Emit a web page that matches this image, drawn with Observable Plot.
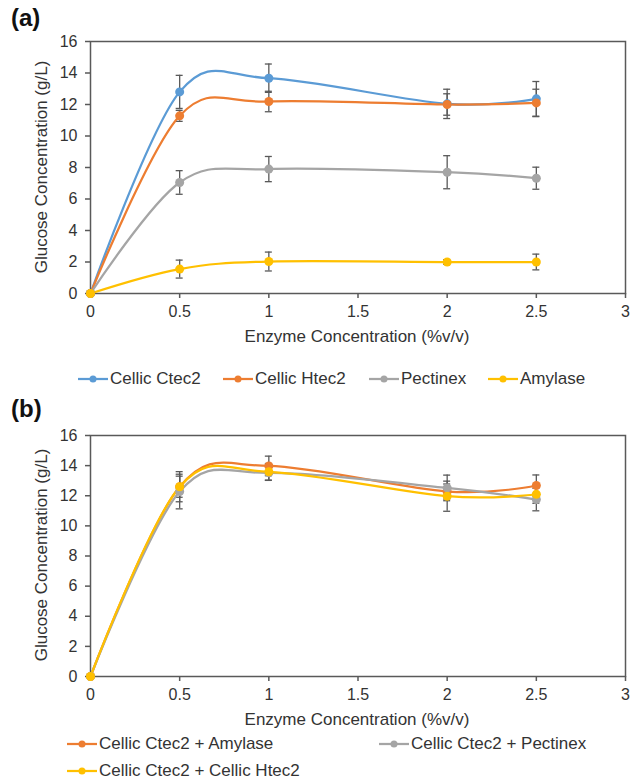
<!DOCTYPE html>
<html>
<head>
<meta charset="utf-8">
<script src="https://cdn.jsdelivr.net/npm/d3@7"></script>
<script src="https://cdn.jsdelivr.net/npm/@observablehq/plot@0.6"></script>
<style>
  html, body { margin: 0; padding: 0; background: #fff; }
  #fig { position: relative; width: 637px; height: 779px; font-family: "Liberation Sans", Arial, sans-serif; color: #333; overflow: hidden; }
  .abs { position: absolute; white-space: nowrap; }
  .panel { font-weight: bold; font-size: 24px; color: #111; }
  .xt { font-size: 17px; transform: translate(-50%, -50%); }
  .yt { font-size: 17px; transform: translate(-50%, -50%) rotate(-90deg); }
  .leg { font-size: 17px; display: flex; align-items: center; transform: translateY(-50%); }
  .leg svg { display: block; margin-right: 2px; }
</style>
</head>
<body>
<div id="fig"></div>
<script>
// ---------- data ----------
const concentrations = [0, 0.5, 1, 2, 2.5];
const xTicks = [0, 0.5, 1, 1.5, 2, 2.5, 3];
const yTicks = [0, 2, 4, 6, 8, 10, 12, 14, 16];

// panel (a)
const seriesA = ["Cellic Ctec2", "Cellic Htec2", "Pectinex", "Amylase"];
const colorsA = ["#5B9BD5", "#ED7D31", "#A5A5A5", "#FFC000"];
const ctec2 = [0, 12.8, 13.67, 12.04, 12.36];
const ctec2Err = [0, 1.05, 0.9, 0.93, 1.1];
const htec2 = [0, 11.28, 12.19, 12.0, 12.1];
const htec2Err = [0, 0.35, 0.65, 0.68, 0.87];
const pectinex = [0, 7.05, 7.9, 7.7, 7.32];
const pectinexErr = [0, 0.75, 0.8, 1.05, 0.7];
const amylase = [0, 1.55, 2.03, 2.0, 2.0];
const amylaseErr = [0, 0.57, 0.6, 0.15, 0.5];

// panel (b)
const seriesB = ["Cellic Ctec2 + Amylase", "Cellic Ctec2 + Pectinex", "Cellic Ctec2 + Cellic Htec2"];
const colorsB = ["#ED7D31", "#A5A5A5", "#FFC000"];
const ctecAmylase = [0, 12.6, 13.98, 12.28, 12.68];
const ctecAmylaseErr = [0, 1.0, 0.65, 0.5, 0.7];
const ctecPectinex = [0, 12.28, 13.52, 12.52, 11.75];
const ctecPectinexErr = [0, 1.15, 0.5, 0.85, 0.75];
const ctecHtec = [0, 12.6, 13.59, 11.97, 12.1];
const ctecHtecErr = [0, 0.7, 0.55, 1.0, 0.6];

const valuesA = [ctec2, htec2, pectinex, amylase];
const errorsA = [ctec2Err, htec2Err, pectinexErr, amylaseErr];
const valuesB = [ctecAmylase, ctecPectinex, ctecHtec];
const errorsB = [ctecAmylaseErr, ctecPectinexErr, ctecHtecErr];

function tidy(names, vals, errs) {
  const rows = [];
  names.forEach((s, k) => concentrations.forEach((x, i) => {
    rows.push({series: s, x, y: vals[k][i], err: errs[k][i], lo: vals[k][i] - errs[k][i], hi: vals[k][i] + errs[k][i]});
  }));
  return rows;
}

const FONT = '"Liberation Sans", Arial, sans-serif';
const fig = document.getElementById("fig");

function makePlot(rows, names, colors, top, height, mTop) {
  const err = rows.filter(d => d.err > 0);
  const p = Plot.plot({
    width: 637,
    height,
    marginTop: mTop,
    marginBottom: 30,
    marginLeft: 90,
    marginRight: 12,
    style: {fontFamily: FONT, fontSize: "16px", color: "#333", background: "transparent", overflow: "visible"},
    x: {domain: [0, 3]},
    y: {domain: [0, 16]},
    color: {domain: names, range: colors},
    marks: [
      Plot.axisX({ticks: xTicks, tickFormat: d => String(d), tickSize: 5, tickPadding: 7, label: null, stroke: "#595959", strokeWidth: 1.5, fill: "#333"}),
      Plot.axisY({ticks: yTicks, tickFormat: d => String(d), tickSize: 5, tickPadding: 8, label: null, stroke: "#595959", strokeWidth: 1.5, fill: "#333"}),
      Plot.frame({stroke: "#595959", strokeWidth: 1.5}),
      Plot.ruleX(err, {x: "x", y1: "lo", y2: "hi", stroke: "#595959", strokeWidth: 1.3}),
      Plot.ruleY(err, {x1: "x", x2: "x", y: "hi", insetLeft: -3.5, insetRight: -3.5, stroke: "#595959", strokeWidth: 1.3}),
      Plot.ruleY(err, {x1: "x", x2: "x", y: "lo", insetLeft: -3.5, insetRight: -3.5, stroke: "#595959", strokeWidth: 1.3}),
      Plot.line(rows, {x: "x", y: "y", z: "series", stroke: "series", strokeWidth: 2.25, curve: "cardinal"}),
      Plot.dot(rows, {x: "x", y: "y", fill: "series", r: 4.5})
    ]
  });
  p.style.position = "absolute";
  p.style.left = "0px";
  p.style.top = top + "px";
  fig.appendChild(p);
}

function addText(cls, text, left, top) {
  const d = document.createElement("div");
  d.className = "abs " + cls;
  d.textContent = text;
  d.style.left = left + "px";
  d.style.top = top + "px";
  fig.appendChild(d);
}

function addLegend(name, color, left, top) {
  const d = document.createElement("div");
  d.className = "abs leg";
  d.style.left = left + "px";
  d.style.top = top + "px";
  d.innerHTML = `<svg width="30" height="12"><line x1="0" y1="6" x2="30" y2="6" stroke="${color}" stroke-width="2.25"/><circle cx="15" cy="6" r="3.5" fill="${color}"/></svg>`;
  const s = document.createElement("span");
  s.textContent = name;
  d.appendChild(s);
  fig.appendChild(d);
}

// panel (a)
makePlot(tidy(seriesA, valuesA, errorsA), seriesA, colorsA, 0, 323, 41);
addText("panel", "(a)", 11, 4);
addText("yt", "Glucose Concentration (g/L)", 42, 167);
addText("xt", "Enzyme Concentration (%v/v)", 357, 337);
const legAX = [78, 223, 369, 488];
seriesA.forEach((s, i) => addLegend(s, colorsA[i], legAX[i], 379));

// panel (b)
makePlot(tidy(seriesB, valuesB, errorsB), seriesB, colorsB, 395, 311, 40);
addText("panel", "(b)", 11, 395);
addText("yt", "Glucose Concentration (g/L)", 42, 555);
addText("xt", "Enzyme Concentration (%v/v)", 357, 720);
const legBX = [67, 379, 67];
const legBY = [744, 744, 771];
seriesB.forEach((s, i) => addLegend(s, colorsB[i], legBX[i], legBY[i]));
</script>
</body>
</html>
